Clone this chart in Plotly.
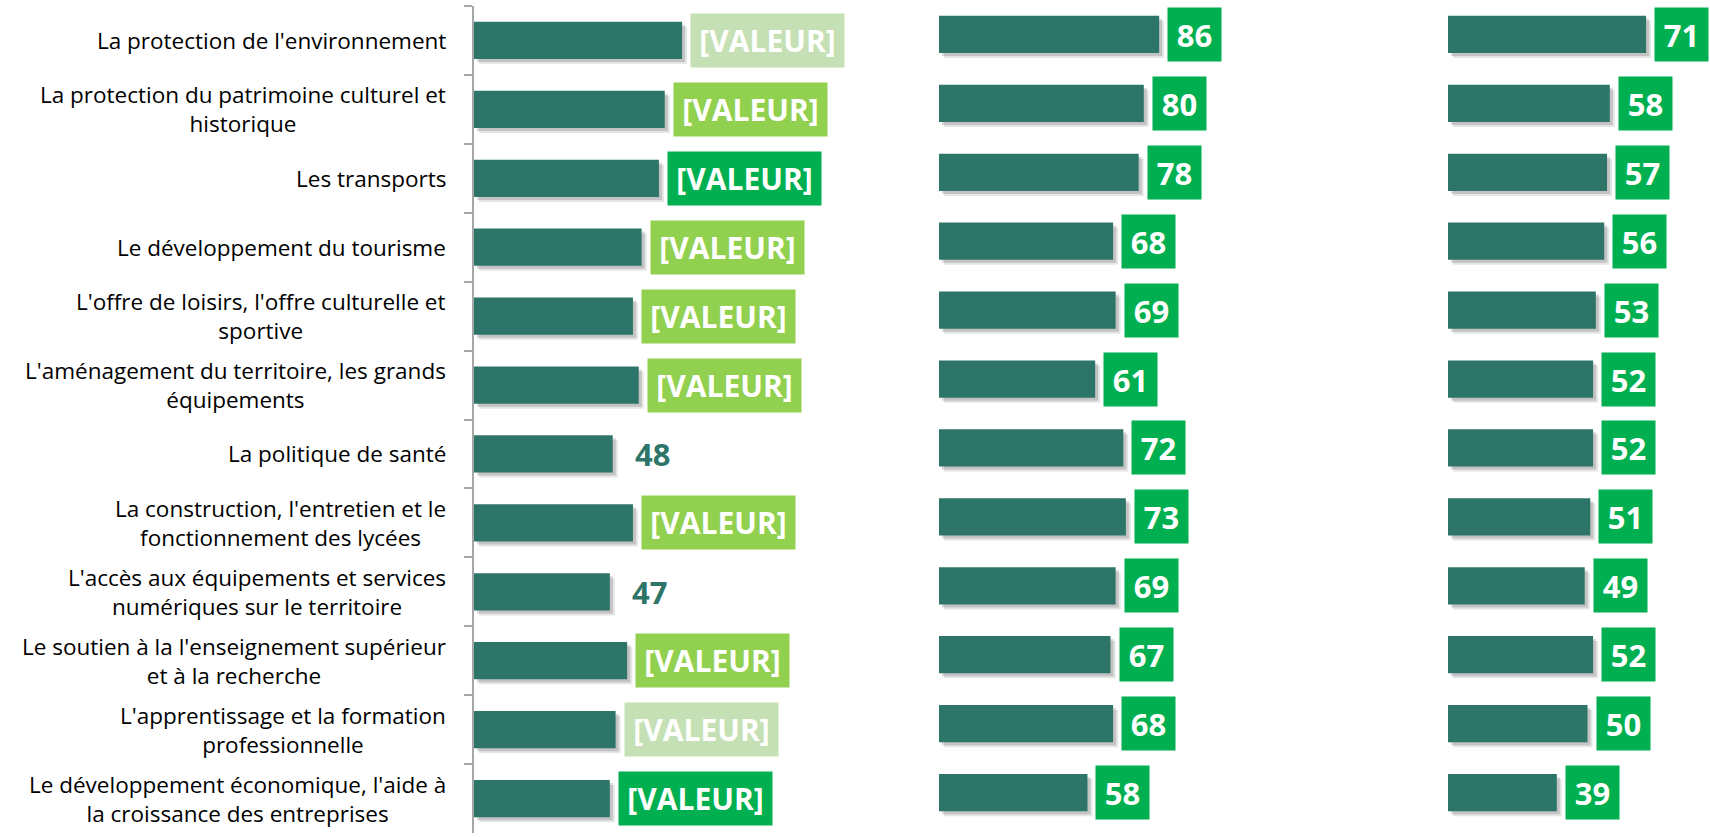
import plotly.graph_objects as go

categories = [
    "La protection de l'environnement",
    "La protection du patrimoine culturel et<br>historique",
    "Les transports",
    "Le développement du tourisme",
    "L'offre de loisirs, l'offre culturelle et<br>sportive",
    "L'aménagement du territoire, les grands<br>équipements",
    "La politique de santé",
    "La construction, l'entretien et le<br>fonctionnement des lycées",
    "L'accès aux équipements et services<br>numériques sur le territoire",
    "Le soutien à la l'enseignement supérieur<br>et à la recherche",
    "L'apprentissage et la formation<br>professionnelle",
    "Le développement économique, l'aide à<br>la croissance des entreprises",
]
panel1_values = [72, 66, 64, 58, 55, 57, 48, 55, 47, 53, 49, 47]
panel1_labels = ["[VALEUR]"] * 6 + ["48", "[VALEUR]", "47"] + ["[VALEUR]"] * 3
panel1_box = ["light", "mid", "bright", "mid", "mid", "mid", "none", "mid", "none", "mid", "light", "bright"]
panel2_values = [86, 80, 78, 68, 69, 61, 72, 73, 69, 67, 68, 58]
panel3_values = [71, 58, 57, 56, 53, 52, 52, 51, 49, 52, 50, 39]

BAR = "#2E7569"
BOX = {"light": "#C5E0B4", "mid": "#92D050", "bright": "#00B050"}
W, H = 1710, 837

# panel geometry (pixels)
p1_dom = (474, 900); p1_scale = 2.89
p2_dom = (939, 1400); p2_scale = 2.56
p3_dom = (1448, 1710); p3_scale = 2.79

fig = go.Figure()
keys = ["row%d" % i for i in range(len(categories))]

def add_panel(values, xa, ya, scale):
    # soft shadow layers
    for k, (dx, dy, a) in enumerate([(5, 5, 0.10), (3, 3, 0.15)]):
        fig.add_trace(go.Bar(
            y=keys, x=values, base=dx / scale, orientation="h",
            width=0.54, offset=-0.27 + dy / 69.0,
            marker=dict(color="rgba(0,0,0,%.2f)" % a, line=dict(width=0)),
            xaxis=xa, yaxis=ya, hoverinfo="skip", showlegend=False))
    fig.add_trace(go.Bar(
        y=keys, x=values, orientation="h", width=0.54, offset=-0.27,
        marker=dict(color=BAR, line=dict(width=0)),
        xaxis=xa, yaxis=ya, showlegend=False))

add_panel(panel1_values, "x", "y", p1_scale)
add_panel(panel2_values, "x2", "y2", p2_scale)
add_panel(panel3_values, "x3", "y3", p3_scale)

def dom(p):
    return [p[0] / W, p[1] / W]

yr1 = [(H - 833) / H, (H - 6) / H]
yr2 = [(H - 827) / H, 1.0]

common_x = dict(showgrid=False, zeroline=False, showticklabels=False, showline=False, fixedrange=True)
fig.update_layout(
    width=W, height=H,
    margin=dict(l=0, r=0, t=0, b=0),
    paper_bgcolor="white", plot_bgcolor="rgba(0,0,0,0)",
    barmode="overlay",
    font=dict(family="Open Sans"),
    xaxis=dict(domain=dom(p1_dom), range=[0, (p1_dom[1] - p1_dom[0]) / p1_scale], **common_x),
    xaxis2=dict(domain=dom(p2_dom), range=[0, (p2_dom[1] - p2_dom[0]) / p2_scale], **common_x),
    xaxis3=dict(domain=dom(p3_dom), range=[0, (p3_dom[1] - p3_dom[0]) / p3_scale], **common_x),
    yaxis=dict(domain=yr1, type="category", categoryorder="array", categoryarray=keys,
               autorange="reversed", showticklabels=False, showgrid=False, zeroline=False,
               showline=True, linecolor="#A6A6A6", linewidth=1.5,
               ticks="outside", tickson="boundaries", ticklen=8, tickcolor="#A6A6A6", tickwidth=1.5),
    yaxis2=dict(domain=yr2, type="category", categoryorder="array", categoryarray=keys,
                autorange="reversed", visible=False),
    yaxis3=dict(domain=yr2, type="category", categoryorder="array", categoryarray=keys,
                autorange="reversed", visible=False),
)

# category labels
for k, c in zip(keys, categories):
    fig.add_annotation(x=448 / W, xref="paper", y=k, yref="y", text=c,
                       xanchor="right", yanchor="middle", align="center", showarrow=False,
                       font=dict(family="Open Sans", size=22.5, color="#000000"))

# value label boxes
for k, v, t, b in zip(keys, panel1_values, panel1_labels, panel1_box):
    if b == "none":
        fig.add_annotation(x=v, xref="x", y=k, yref="y", text="<b>%s</b>" % t,
                           xanchor="left", xshift=20, showarrow=False,
                           font=dict(family="Open Sans", size=31, color=BAR))
    else:
        fig.add_annotation(x=v, xref="x", y=k, yref="y", text="<b>%s</b>" % t,
                           xanchor="left", xshift=8, showarrow=False, bgcolor=BOX[b],
                           borderpad=7, width=139, height=39,
                           font=dict(family="Open Sans", size=30, color="white"))

for vals, xa, ya in [(panel2_values, "x2", "y2"), (panel3_values, "x3", "y3")]:
    for k, v in zip(keys, vals):
        fig.add_annotation(x=v, xref=xa, y=k, yref=ya, text="<b>%d</b>" % v,
                           xanchor="left", xshift=8, showarrow=False, bgcolor=BOX["bright"],
                           borderpad=7, width=39, height=39,
                           font=dict(family="Open Sans", size=31, color="white"))

fig.write_html("out.html", config={"displayModeBar": False},
               post_script="document.body.style.margin='0';document.body.style.overflow='hidden';")
